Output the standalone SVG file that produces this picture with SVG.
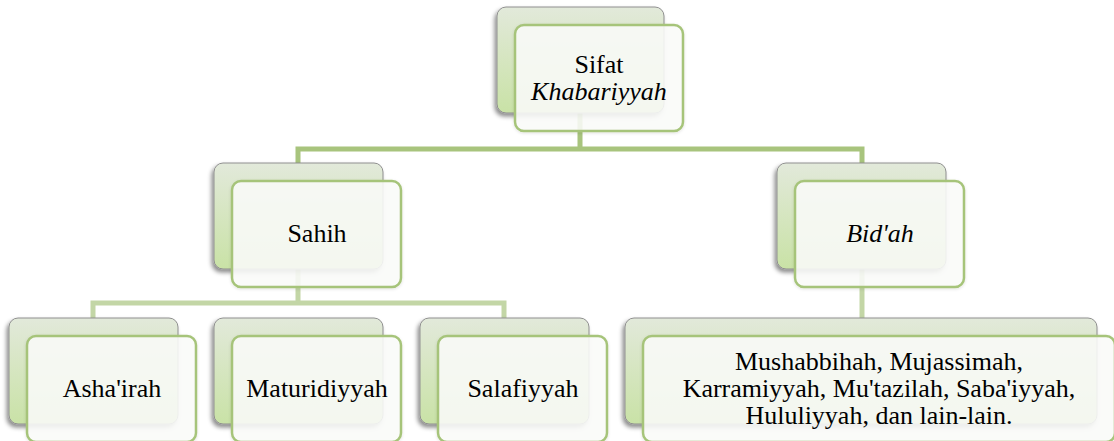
<svg xmlns="http://www.w3.org/2000/svg" width="1114" height="441" viewBox="0 0 1114 441">
<defs>
<linearGradient id="backGrad" x1="0" y1="0" x2="0" y2="1">
<stop offset="0" stop-color="#e2e9da"/>
<stop offset="1" stop-color="#c9e2a6"/>
</linearGradient>
<filter id="shadow" x="-20%" y="-20%" width="140%" height="150%">
<feDropShadow dx="-2" dy="3" stdDeviation="2" flood-color="#000" flood-opacity="0.45"/>
</filter>
<filter id="shadow2" x="-20%" y="-20%" width="140%" height="150%">
<feDropShadow dx="0" dy="1" stdDeviation="1.5" flood-color="#000" flood-opacity="0.12"/>
</filter>
</defs>
<style>
.back{fill:url(#backGrad);stroke:#8f8f8f;stroke-width:1;filter:url(#shadow)}
.front{fill:#fbfcf9;fill-opacity:0.88;stroke:#a6c47a;stroke-width:2.5;filter:url(#shadow2)}
.lbl{font-family:'Liberation Serif','Times New Roman',serif;font-size:26px;fill:#000;text-anchor:middle}
.it{font-style:italic}
.c1{fill:none;stroke:#a8c47d;stroke-width:5}
.c2{fill:none;stroke:#c3d6a6;stroke-width:5}
</style>
<g id="connectors">
<path class="c1" d="M580 113 V149 M298 164 V149 H862 V164"/>
<path class="c2" d="M298 269 V303 M93 318 V303 H504 V318"/>
<path class="c2" d="M862 269 V318"/>
</g>
<g id="node-root">
<rect class="back" x="497" y="7" width="167" height="106" rx="9"/>
<rect class="front" x="515" y="25" width="168" height="106" rx="9"/>
<text class="lbl" x="599" y="73">Sifat</text>
<text class="lbl it" x="599" y="100">Khabariyyah</text>
</g>
<g id="node-sahih">
<rect class="back" x="214" y="163" width="169" height="106" rx="9"/>
<rect class="front" x="232" y="181" width="169" height="106" rx="9"/>
<text class="lbl" x="317" y="242">Sahih</text>
</g>
<g id="node-bidah">
<rect class="back" x="777" y="163" width="169" height="106" rx="9"/>
<rect class="front" x="795" y="181" width="169" height="106" rx="9"/>
<text class="lbl it" x="880" y="242">Bid'ah</text>
</g>
<g id="node-ashairah">
<rect class="back" x="9" y="318" width="169" height="106" rx="9"/>
<rect class="front" x="27" y="336" width="169" height="106" rx="9"/>
<text class="lbl" x="112" y="397">Asha'irah</text>
</g>
<g id="node-maturidiyyah">
<rect class="back" x="214" y="318" width="169" height="106" rx="9"/>
<rect class="front" x="232" y="336" width="169" height="106" rx="9"/>
<text class="lbl" x="317" y="397">Maturidiyyah</text>
</g>
<g id="node-salafiyyah">
<rect class="back" x="420" y="318" width="169" height="106" rx="9"/>
<rect class="front" x="438" y="336" width="169" height="106" rx="9"/>
<text class="lbl" x="523" y="397">Salafiyyah</text>
</g>
<g id="node-others">
<rect class="back" x="625" y="318" width="472" height="106" rx="9"/>
<rect class="front" x="643" y="336" width="472" height="106" rx="9"/>
<text class="lbl" x="879" y="370">Mushabbihah, Mujassimah,</text>
<text class="lbl" x="879" y="397">Karramiyyah, Mu'tazilah, Saba'iyyah,</text>
<text class="lbl" x="879" y="424">Hululiyyah, dan lain-lain.</text>
</g>
</svg>
